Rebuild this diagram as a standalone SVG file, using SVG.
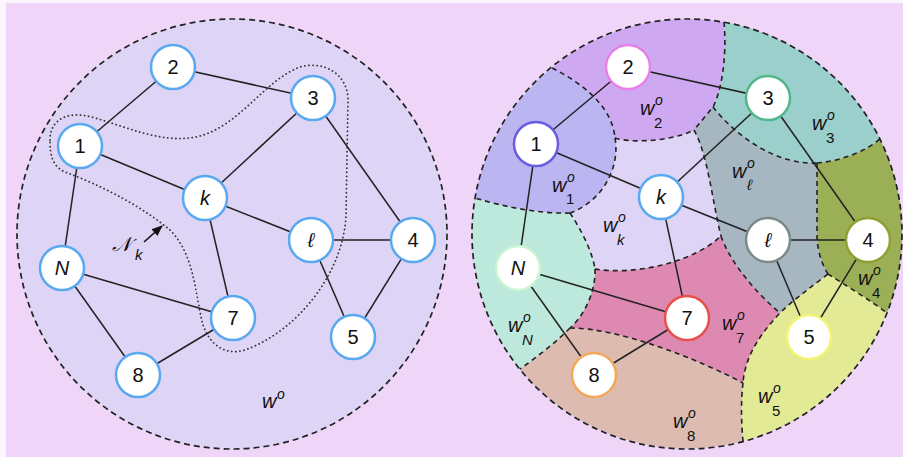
<svg xmlns="http://www.w3.org/2000/svg" width="903" height="457" viewBox="0 0 903 457">
<style>
.edge{stroke:#222;stroke-width:1.5;fill:none}
.node circle{fill:#fff;stroke-width:2.5}
.lbl{font-family:"Liberation Sans",Arial,sans-serif;font-size:20px;fill:#111;text-anchor:middle}
.it{font-style:italic}
.bd{fill:none;stroke:#222;stroke-width:1.6;stroke-dasharray:5 4}
.outer{fill:none;stroke:#222;stroke-width:1.7;stroke-dasharray:6 4}
.w{font-family:"Liberation Sans",Arial,sans-serif;font-size:20px;fill:#111;font-style:italic}
.sup{font-family:"Liberation Sans",Arial,sans-serif;font-size:14px;fill:#111;font-style:italic}
.sub{font-family:"Liberation Sans",Arial,sans-serif;font-size:15px;fill:#111}
.blue{stroke:#5AA8F0}
</style>
<defs>
<marker id="ah" viewBox="0 0 10 10" refX="9" refY="5" markerWidth="7" markerHeight="7" orient="auto">
<path d="M0,1 L10,5 L0,9 Z" fill="#111"/>
</marker>
</defs>
<rect x="0" y="0" width="903" height="457" fill="#fbf6fd"/>
<rect x="6" y="3" width="897" height="454" fill="#EFD6F8"/>

<!-- LEFT PANEL -->
<g id="left-domain">
<circle cx="232" cy="234" r="215" fill="#DDD4F6"/>
<circle cx="232" cy="234" r="215" class="outer"/>
<path d="M50,140 C50,118 70,110 95,118 C130,128 165,145 200,136 C240,125 265,80 300,67 C325,60 348,75 348,100 L346,215 C344,270 300,330 245,350 C225,356 210,345 203,325 C195,295 195,255 170,230 C140,205 100,185 65,172 C52,166 50,155 50,140 Z" fill="none" stroke="#333" stroke-width="1.8" stroke-dasharray="0.1 4" stroke-linecap="round"/>
<text x="262" y="408" class="w">w</text><text x="277" y="399" class="sup">o</text>
<text x="112" y="251" font-family="'DejaVu Sans','Liberation Serif',serif" font-size="20" fill="#111" font-style="italic">𝒩</text>
<text x="135" y="260" font-family="'Liberation Sans',Arial,sans-serif" font-size="15" font-style="italic" fill="#111">k</text>
</g>

<g id="left-connectors">
<line class="edge" x1="80" y1="146" x2="173" y2="67"/>
<line class="edge" x1="173" y1="67" x2="313" y2="98"/>
<line class="edge" x1="80" y1="146" x2="205" y2="198"/>
<line class="edge" x1="205" y1="198" x2="313" y2="98"/>
<line class="edge" x1="313" y1="98" x2="413" y2="240"/>
<line class="edge" x1="205" y1="198" x2="311" y2="240"/>
<line class="edge" x1="311" y1="240" x2="413" y2="240"/>
<line class="edge" x1="311" y1="240" x2="353" y2="337"/>
<line class="edge" x1="413" y1="240" x2="353" y2="337"/>
<line class="edge" x1="80" y1="146" x2="62" y2="268"/>
<line class="edge" x1="62" y1="268" x2="233" y2="318"/>
<line class="edge" x1="62" y1="268" x2="138" y2="375"/>
<line class="edge" x1="138" y1="375" x2="233" y2="318"/>
<line class="edge" x1="205" y1="198" x2="233" y2="318"/>
<line x1="144" y1="242" x2="162" y2="226" stroke="#111" stroke-width="1.6" marker-end="url(#ah)"/>
</g>

<g id="L1" class="node"><circle cx="80" cy="146" r="22" class="blue"/><text x="80" y="153" class="lbl">1</text></g>
<g id="L2" class="node"><circle cx="173" cy="67" r="22" class="blue"/><text x="173" y="74" class="lbl">2</text></g>
<g id="L3" class="node"><circle cx="313" cy="98" r="22" class="blue"/><text x="313" y="105" class="lbl">3</text></g>
<g id="Lk" class="node"><circle cx="205" cy="198" r="22" class="blue"/><text x="205" y="205" class="lbl it">k</text></g>
<g id="Ll" class="node"><circle cx="311" cy="240" r="22" class="blue"/><text x="311" y="247" class="lbl it">ℓ</text></g>
<g id="L4" class="node"><circle cx="413" cy="240" r="22" class="blue"/><text x="413" y="247" class="lbl">4</text></g>
<g id="LN" class="node"><circle cx="62" cy="268" r="22" class="blue"/><text x="62" y="275" class="lbl it">N</text></g>
<g id="L7" class="node"><circle cx="233" cy="318" r="22" class="blue"/><text x="233" y="325" class="lbl">7</text></g>
<g id="L5" class="node"><circle cx="353" cy="337" r="22" class="blue"/><text x="353" y="344" class="lbl">5</text></g>
<g id="L8" class="node"><circle cx="138" cy="375" r="22" class="blue"/><text x="138" y="382" class="lbl">8</text></g>

<!-- RIGHT PANEL -->
<g id="right-regions">
<circle cx="687" cy="234" r="215" fill="#DDD4F6"/>
<path fill="#BBB5F2" d="M475,198 A215,215 0 0 1 552,68 C580,82 612,105 615,138 C620,165 605,200 570,213 C540,214 505,207 475,198 Z"/>
<path fill="#CFA8F2" d="M552,68 A215,215 0 0 1 724,22 C727,55 722,90 713,107 L694,130 C670,142 630,143 615,138 C612,105 580,82 552,68 Z"/>
<path fill="#9ACFCB" d="M724,22 A215,215 0 0 1 880,139 C865,152 840,161 817,163 C775,165 735,135 713,107 C722,90 727,55 724,22 Z"/>
<path fill="#9BB056" d="M880,139 A215,215 0 0 1 887,313 C870,300 845,285 828,274 C822,265 817,250 817,235 L817,163 C840,161 865,152 880,139 Z"/>
<path fill="#E3EA95" d="M887,313 A215,215 0 0 1 743,441 C741,420 741,400 743,383 C745,355 762,332 780,313 C793,300 810,288 828,274 C845,285 870,300 887,313 Z"/>
<path fill="#DDBBB0" d="M743,441 A215,215 0 0 1 520,369 C537,357 555,343 570,328 C620,328 700,360 743,383 C741,400 741,420 743,441 Z"/>
<path fill="#BDE9DC" d="M520,369 A215,215 0 0 1 475,198 C505,207 540,214 570,213 C580,228 592,250 595,269 C596,290 585,315 570,328 C555,343 537,357 520,369 Z"/>
<path fill="#A7B7C2" d="M713,107 C735,135 775,165 817,163 L817,235 C817,250 822,265 828,274 C810,288 793,300 780,313 C755,292 730,262 721,236 C712,200 708,155 694,130 Z"/>
<path fill="#DE89B2" d="M595,269 C630,275 690,265 721,236 C730,262 755,292 780,313 C762,332 745,355 743,383 C700,360 620,328 570,328 C585,315 596,290 595,269 Z"/>
</g>

<g id="right-boundaries">
<path class="bd" d="M552,68 C580,82 612,105 615,138"/>
<path class="bd" d="M615,138 C630,143 670,142 694,130"/>
<path class="bd" d="M615,138 C620,165 605,200 570,213"/>
<path class="bd" d="M570,213 C540,214 505,207 475,198"/>
<path class="bd" d="M724,22 C727,55 722,90 713,107 L694,130"/>
<path class="bd" d="M713,107 C735,135 775,165 817,163"/>
<path class="bd" d="M817,163 C840,161 865,152 880,139"/>
<path class="bd" d="M817,163 L817,235 C817,250 822,265 828,274"/>
<path class="bd" d="M828,274 C845,285 870,300 887,313"/>
<path class="bd" d="M828,274 C810,288 793,300 780,313 C762,332 745,355 743,383"/>
<path class="bd" d="M743,383 C741,400 741,420 743,441"/>
<path class="bd" d="M721,236 C730,262 755,292 780,313"/>
<path class="bd" d="M694,130 C708,155 712,200 721,236"/>
<path class="bd" d="M595,269 C630,275 690,265 721,236"/>
<path class="bd" d="M570,213 C580,228 592,250 595,269"/>
<path class="bd" d="M595,269 C596,290 585,315 570,328"/>
<path class="bd" d="M570,328 C555,343 537,357 520,369"/>
<path class="bd" d="M570,328 C620,328 700,360 743,383"/>
<circle cx="687" cy="234" r="215" class="outer"/>
</g>

<g id="right-labels">
<text x="552" y="192" class="w">w</text><text x="567" y="182" class="sup">o</text><text x="566" y="204" class="sub">1</text>
<text x="640" y="115" class="w">w</text><text x="655" y="105" class="sup">o</text><text x="654" y="128" class="sub">2</text>
<text x="812" y="130" class="w">w</text><text x="827" y="120" class="sup">o</text><text x="826" y="143" class="sub">3</text>
<text x="732" y="178" class="w">w</text><text x="747" y="168" class="sup">o</text><text x="747" y="190" class="sub" font-style="italic">ℓ</text>
<text x="603" y="232" class="w">w</text><text x="618" y="222" class="sup">o</text><text x="617" y="245" class="sub" font-style="italic">k</text>
<text x="508" y="332" class="w">w</text><text x="523" y="322" class="sup">o</text><text x="522" y="345" class="sub" font-style="italic">N</text>
<text x="722" y="330" class="w">w</text><text x="737" y="320" class="sup">o</text><text x="736" y="343" class="sub">7</text>
<text x="858" y="285" class="w">w</text><text x="873" y="275" class="sup">o</text><text x="872" y="298" class="sub">4</text>
<text x="758" y="403" class="w">w</text><text x="773" y="393" class="sup">o</text><text x="772" y="416" class="sub">5</text>
<text x="673" y="428" class="w">w</text><text x="688" y="418" class="sup">o</text><text x="687" y="441" class="sub">8</text>
</g>

<g id="right-connectors">
<line class="edge" x1="536" y1="144" x2="628" y2="67"/>
<line class="edge" x1="628" y1="67" x2="768" y2="98"/>
<line class="edge" x1="536" y1="144" x2="661" y2="197"/>
<line class="edge" x1="661" y1="197" x2="768" y2="98"/>
<line class="edge" x1="768" y1="98" x2="868" y2="240"/>
<line class="edge" x1="661" y1="197" x2="768" y2="240"/>
<line class="edge" x1="768" y1="240" x2="868" y2="240"/>
<line class="edge" x1="768" y1="240" x2="809" y2="337"/>
<line class="edge" x1="868" y1="240" x2="809" y2="337"/>
<line class="edge" x1="536" y1="144" x2="518" y2="268"/>
<line class="edge" x1="518" y1="268" x2="687" y2="318"/>
<line class="edge" x1="518" y1="268" x2="594" y2="375"/>
<line class="edge" x1="594" y1="375" x2="687" y2="318"/>
<line class="edge" x1="661" y1="197" x2="687" y2="318"/>
</g>

<g id="R1" class="node"><circle cx="536" cy="144" r="22" stroke="#6A5CE0"/><text x="536" y="151" class="lbl">1</text></g>
<g id="R2" class="node"><circle cx="628" cy="67" r="22" stroke="#E680E8"/><text x="628" y="74" class="lbl">2</text></g>
<g id="R3" class="node"><circle cx="768" cy="98" r="22" stroke="#52B88C"/><text x="768" y="105" class="lbl">3</text></g>
<g id="Rk" class="node"><circle cx="661" cy="197" r="22" stroke="#5AA8F0"/><text x="661" y="204" class="lbl it">k</text></g>
<g id="Rl" class="node"><circle cx="768" cy="240" r="22" stroke="#7C8A88"/><text x="768" y="247" class="lbl it">ℓ</text></g>
<g id="R4" class="node"><circle cx="868" cy="240" r="22" stroke="#8FA030"/><text x="868" y="247" class="lbl">4</text></g>
<g id="RN" class="node"><circle cx="518" cy="268" r="22" stroke="#C8F4D4"/><text x="518" y="275" class="lbl it">N</text></g>
<g id="R7" class="node"><circle cx="687" cy="318" r="22" stroke="#E8504C"/><text x="687" y="325" class="lbl">7</text></g>
<g id="R5" class="node"><circle cx="809" cy="337" r="22" stroke="#F4F474"/><text x="809" y="344" class="lbl">5</text></g>
<g id="R8" class="node"><circle cx="594" cy="375" r="22" stroke="#F0A85A"/><text x="594" y="382" class="lbl">8</text></g>
</svg>
